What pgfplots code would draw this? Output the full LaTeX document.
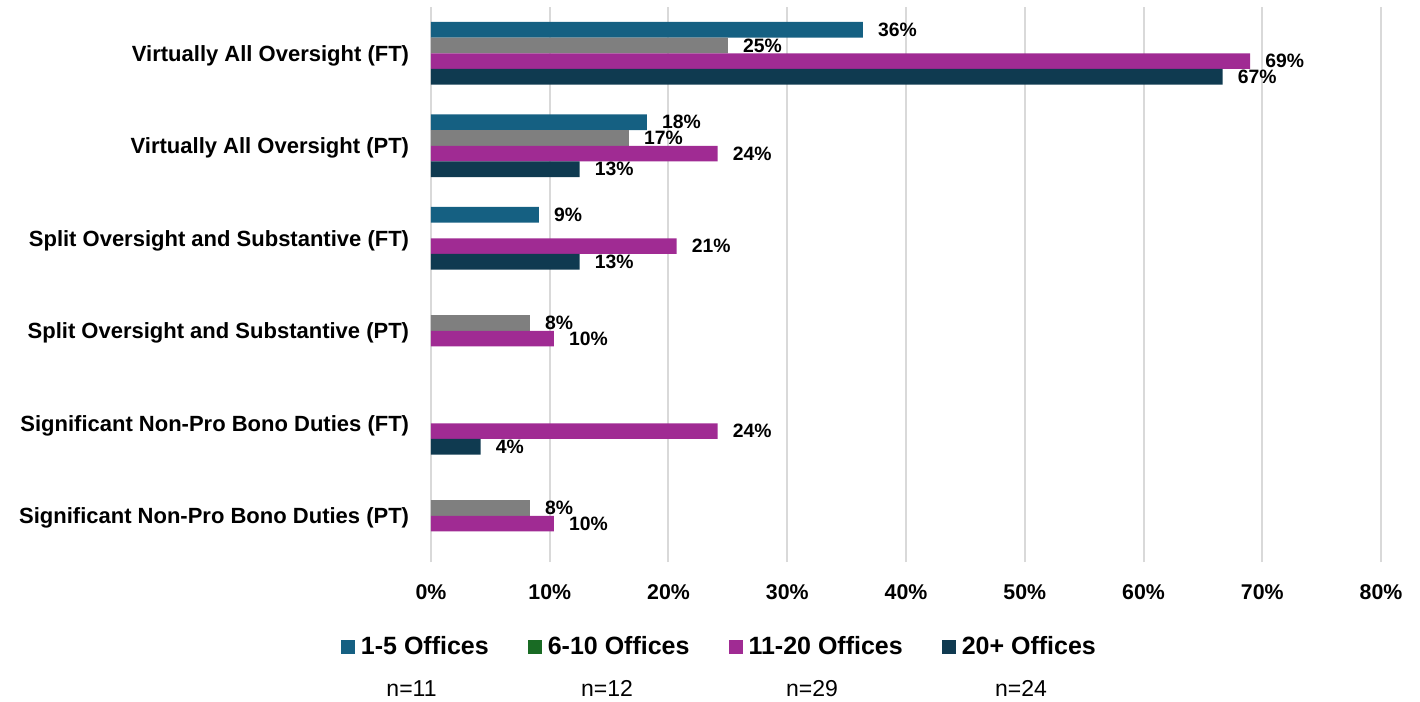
\documentclass[border=0pt]{standalone}
\usepackage{pgfplots}
\pgfplotsset{compat=1.18}
\usepackage{fontspec}
\setmainfont{Liberation Sans}
\definecolor{cA}{HTML}{156082}
\definecolor{cB}{HTML}{7F7F7F}
\definecolor{cBleg}{HTML}{196B24}
\definecolor{cC}{HTML}{A02B93}
\definecolor{cD}{HTML}{0F3A50}
\definecolor{gridc}{HTML}{D9D9D9}
\begin{document}
\begin{tikzpicture}
\path[use as bounding box] (-323.25pt,-104.25pt) rectangle (741.75pt,421.5pt);
\begin{axis}[
  at={(0,0)}, anchor=south west,
  scale only axis,
  width=712.5pt, height=416.25pt,
  xmin=0, xmax=80, ymin=-0.5, ymax=5.5,
  xbar,
  bar width=0.17,
  axis line style={draw=none},
  major tick style={draw=none},
  xmajorgrids, grid style={gridc, line width=1.5pt},
  xtick={0,10,...,80},
  xticklabel={\pgfmathprintnumber{\tick}\%},
  /pgf/number format/assume math mode=true,
  xticklabel style={font=\bfseries\fontsize{16}{19}\selectfont, anchor=base, inner sep=0pt, yshift=-28.1pt},
  ytick={0,1,2,3,4,5},
  yticklabels={Significant Non-Pro Bono Duties (PT),
    Significant Non-Pro Bono Duties (FT)\hspace{3.75pt},
    Split Oversight and Substantive (PT),
    Split Oversight and Substantive (FT),
    Virtually All Oversight (PT)\hspace{3.75pt},
    Virtually All Oversight (FT)},
  yticklabel style={font=\bfseries\fontsize{16.5}{19}\selectfont, anchor=base east, inner sep=0pt, xshift=-12pt, yshift=-5.9pt},
  nodes near coords={\pgfmathprintnumber[fixed,precision=0]{\pgfplotspointmeta}\%},
  nodes near coords style={font=\bfseries\fontsize{14.5}{17}\selectfont, anchor=west, inner sep=0pt, xshift=11.25pt, text=black},
  legend columns=4,
  legend style={at={(0.3026,-0.153)}, anchor=center, draw=none, inner sep=0pt,
    font=\bfseries\fontsize{18.75}{22}\selectfont,
    nodes={inner sep=0pt},
    /tikz/every even column/.append style={column sep=29.25pt}},
  legend image code/.code={\fill[#1] (0pt,-5.25pt) rectangle (10.5pt,5.25pt); \path (15pt,0pt);},
]
\addplot[fill=cA, draw=none, bar shift=0.255, forget plot] coordinates {(36.36,5) (18.18,4) (9.09,3)};
\addplot[fill=cB, draw=none, bar shift=0.085, forget plot] coordinates {(25,5) (16.67,4) (8.33,2) (8.33,0)};
\addplot[fill=cC, draw=none, bar shift=-0.085, forget plot] coordinates {(68.97,5) (24.14,4) (20.69,3) (10.34,2) (24.14,1) (10.34,0)};
\addplot[fill=cD, draw=none, bar shift=-0.255, forget plot] coordinates {(66.67,5) (12.51,4) (12.51,3) (4.17,1)};
\addlegendimage{fill=cA, draw=none}
\addlegendentry{1-5 Offices}
\addlegendimage{fill=cBleg, draw=none}
\addlegendentry{6-10 Offices}
\addlegendimage{fill=cC, draw=none}
\addlegendentry{11-20 Offices}
\addlegendimage{fill=cD, draw=none}
\addlegendentry{20+ Offices}
\end{axis}
\begin{scope}[every node/.style={font=\fontsize{17.25}{20}\selectfont, anchor=base, inner sep=0pt}]
\node at (-14.6pt,-100.5pt) {n=11};
\node at (132pt,-100.5pt) {n=12};
\node at (285.75pt,-100.5pt) {n=29};
\node at (442.5pt,-100.5pt) {n=24};
\end{scope}
\end{tikzpicture}
\end{document}
